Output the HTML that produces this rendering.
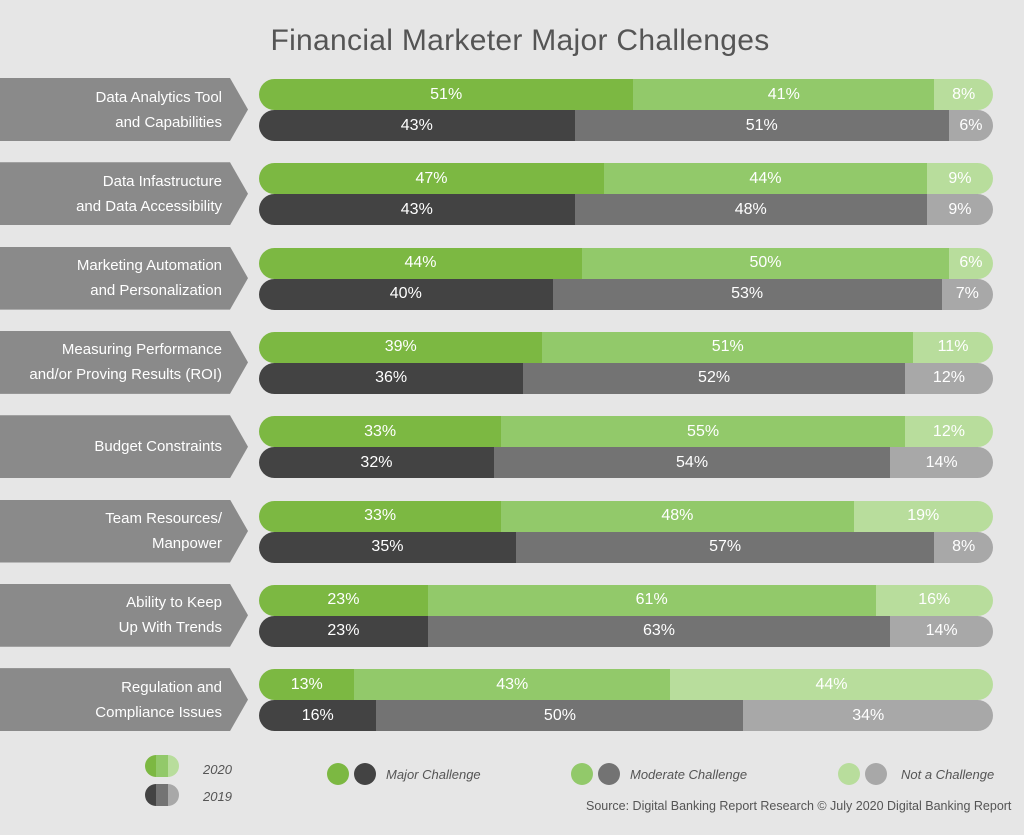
<!DOCTYPE html>
<html><head><meta charset="utf-8"><style>
body{margin:0;width:1024px;height:835px;background:#e6e6e6;font-family:"Liberation Sans",sans-serif;position:relative;overflow:hidden}
#title{position:absolute;left:0;width:1040px;top:24px;text-align:center;font-size:30px;color:#555;font-weight:300;letter-spacing:0.3px}
.arrow{position:absolute;left:0;width:248px;height:63px;background:#8a8a8a;clip-path:polygon(0 0,230px 0,248px 50%,230px 100%,0 100%);color:#fff;font-size:15px;display:flex;align-items:center;justify-content:flex-end;text-align:right;line-height:25px;box-sizing:border-box;padding-right:26px}
.bar{position:absolute;left:259px;width:734px;height:31px;border-radius:16px;overflow:hidden;display:flex}
.seg{height:100%;display:flex;align-items:center;justify-content:center;color:#fff;font-size:16px}
.leg{position:absolute;font-size:13px;color:#555;font-style:italic}
.dot{position:absolute;width:22px;height:22px;border-radius:50%}
</style></head><body>
<div id="title">Financial Marketer Major Challenges</div>
<div id="chart"></div>
<div>
<div style="position:absolute;left:145px;top:755px;width:34px;height:22px;border-radius:11px;overflow:hidden;display:flex"><div style="flex:1;background:#7cb842"></div><div style="flex:1;background:#92c96a"></div><div style="flex:1;background:#b8dd9c"></div></div>
<div class="leg" style="left:203px;top:762px">2020</div>
<div style="position:absolute;left:145px;top:784px;width:34px;height:22px;border-radius:11px;overflow:hidden;display:flex"><div style="flex:1;background:#434343"></div><div style="flex:1;background:#737373"></div><div style="flex:1;background:#a8a8a8"></div></div>
<div class="leg" style="left:203px;top:789px">2019</div>
</div>
<div><div class="dot" style="left:327px;top:763px;background:#7cb842"></div><div class="dot" style="left:354px;top:763px;background:#434343"></div><div class="leg" style="left:386px;top:767px">Major Challenge</div></div>
<div><div class="dot" style="left:571px;top:763px;background:#92c96a"></div><div class="dot" style="left:598px;top:763px;background:#737373"></div><div class="leg" style="left:630px;top:767px">Moderate Challenge</div></div>
<div><div class="dot" style="left:838px;top:763px;background:#b8dd9c"></div><div class="dot" style="left:865px;top:763px;background:#a8a8a8"></div><div class="leg" style="left:901px;top:767px">Not a Challenge</div></div>
<div class="leg" style="left:586px;top:799px;font-style:normal;font-size:12.5px">Source: Digital Banking Report Research © July 2020 Digital Banking Report</div>
<script>
const categories=["Data Analytics Tool<br>and Capabilities","Data Infastructure<br>and Data Accessibility","Marketing Automation<br>and Personalization","Measuring Performance<br>and/or Proving Results (ROI)","Budget Constraints","Team Resources/<br>Manpower","Ability to Keep<br>Up With Trends","Regulation and<br>Compliance Issues"];
const major2020=[51,47,44,39,33,33,23,13];
const moderate2020=[41,44,50,51,55,48,61,43];
const not2020=[8,9,6,11,12,19,16,44];
const major2019=[43,43,40,36,32,35,23,16];
const moderate2019=[51,48,53,52,54,57,63,50];
const not2019=[6,9,7,12,14,8,14,34];
const chart=document.getElementById('chart');
const y0=79,pitch=84.3,barW=734;
function addBar(top,vals,cols,name){
  const b=document.createElement('div');
  
  
  b.className='bar';b.style.top=top+'px';
  const tot=vals.reduce((a,c)=>a+c,0);
  vals.forEach((v,k)=>{
    const s=document.createElement('div');
    
    
    s.className='seg';s.style.width=(v/tot*barW)+'px';s.style.background=cols[k];s.textContent=v+'%';
    b.appendChild(s);
  });
  chart.appendChild(b);
}
categories.forEach((c,i)=>{
  const top=y0+i*pitch;
  const a=document.createElement('div');
  
  
  a.className='arrow';a.style.top=(top-1)+'px';a.innerHTML='<span>'+c+'</span>';
  chart.appendChild(a);
  addBar(top,[major2020[i],moderate2020[i],not2020[i]],['#7cb842','#92c96a','#b8dd9c'],'bar-2020');
  addBar(top+31,[major2019[i],moderate2019[i],not2019[i]],['#434343','#737373','#a8a8a8'],'bar-2019');
});
</script>
</body></html>
